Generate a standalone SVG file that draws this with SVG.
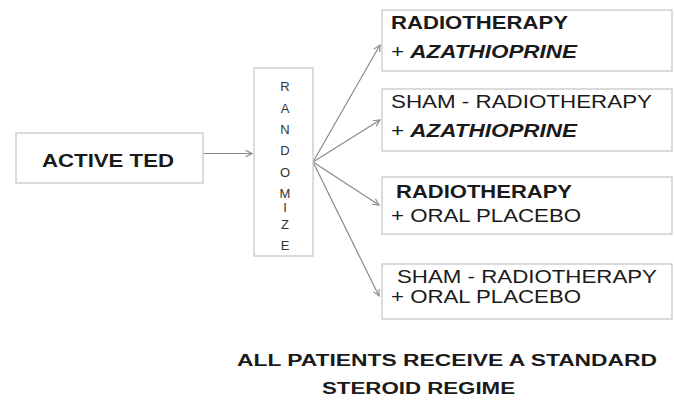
<svg xmlns="http://www.w3.org/2000/svg" width="674" height="417" viewBox="0 0 674 417">
<defs>
<style>
.box{fill:#fff;stroke:#c8c8c8;stroke-width:1.3}
.t{font-family:"Liberation Sans",Arial,sans-serif;fill:#1a1a1a;font-size:19px}
.b{font-weight:bold}
.bi{font-weight:bold;font-style:italic}
.l{font-family:"Liberation Sans",Arial,sans-serif;fill:#333;font-size:13px;text-anchor:middle}
.c{stroke:#8a8a8a;stroke-width:1.2;fill:none}
</style>
<marker id="ah" viewBox="0 0 10 10" refX="9" refY="5" markerWidth="8" markerHeight="8" markerUnits="userSpaceOnUse" orient="auto">
<path d="M1,1 L9,5 L1,9" fill="none" stroke="#8a8a8a" stroke-width="1.4"/>
</marker>
</defs>
<rect width="674" height="417" fill="#fff"/>
<g id="connectors">
<line class="c" x1="203" y1="153.5" x2="252" y2="153.5" marker-end="url(#ah)"/>
<line class="c" x1="313" y1="162" x2="380" y2="45" marker-end="url(#ah)"/>
<line class="c" x1="313" y1="162" x2="380" y2="120" marker-end="url(#ah)"/>
<line class="c" x1="313" y1="162" x2="379" y2="205" marker-end="url(#ah)"/>
<line class="c" x1="313" y1="162" x2="379" y2="296" marker-end="url(#ah)"/>
</g>
<g id="active-ted">
<rect class="box" x="16" y="133" width="187" height="50"/>
<text class="t b" x="42" y="167" textLength="132" lengthAdjust="spacingAndGlyphs">ACTIVE TED</text>
</g>
<g id="randomize">
<rect class="box" x="254" y="68" width="59" height="188"/>
<text class="l" x="285" y="90.5">R</text>
<text class="l" x="285" y="112.5">A</text>
<text class="l" x="285" y="133.5">N</text>
<text class="l" x="285" y="154.5">D</text>
<text class="l" x="285" y="176.5">O</text>
<text class="l" x="285" y="197.5">M</text>
<text class="l" x="285" y="211.5">I</text>
<text class="l" x="285" y="228.5">Z</text>
<text class="l" x="285" y="249.5">E</text>
</g>
<g id="arm1">
<rect class="box" x="382" y="10" width="290" height="61"/>
<text class="t b" x="391" y="29" textLength="177" lengthAdjust="spacingAndGlyphs">RADIOTHERAPY</text>
<text class="t" x="391" y="58" textLength="186" lengthAdjust="spacingAndGlyphs">+ <tspan class="bi">AZATHIOPRINE</tspan></text>
</g>
<g id="arm2">
<rect class="box" x="382" y="89" width="290" height="62"/>
<text class="t" x="391" y="108" textLength="261" lengthAdjust="spacingAndGlyphs">SHAM - RADIOTHERAPY</text>
<text class="t" x="391" y="137" textLength="186" lengthAdjust="spacingAndGlyphs">+ <tspan class="bi">AZATHIOPRINE</tspan></text>
</g>
<g id="arm3">
<rect class="box" x="382" y="177" width="290" height="57"/>
<text class="t b" x="396" y="198" textLength="176" lengthAdjust="spacingAndGlyphs">RADIOTHERAPY</text>
<text class="t" x="391" y="222" textLength="190" lengthAdjust="spacingAndGlyphs">+ ORAL PLACEBO</text>
</g>
<g id="arm4">
<rect class="box" x="382" y="264" width="290" height="55"/>
<text class="t" x="397" y="283" textLength="260" lengthAdjust="spacingAndGlyphs">SHAM - RADIOTHERAPY</text>
<text class="t" x="391" y="303" textLength="190" lengthAdjust="spacingAndGlyphs">+ ORAL PLACEBO</text>
</g>
<g id="note">
<text class="t b" style="font-size:16px" x="237" y="366" textLength="420" lengthAdjust="spacingAndGlyphs">ALL PATIENTS RECEIVE A STANDARD</text>
<text class="t b" style="font-size:16px" x="322" y="394" textLength="193" lengthAdjust="spacingAndGlyphs">STEROID REGIME</text>
</g>
</svg>
